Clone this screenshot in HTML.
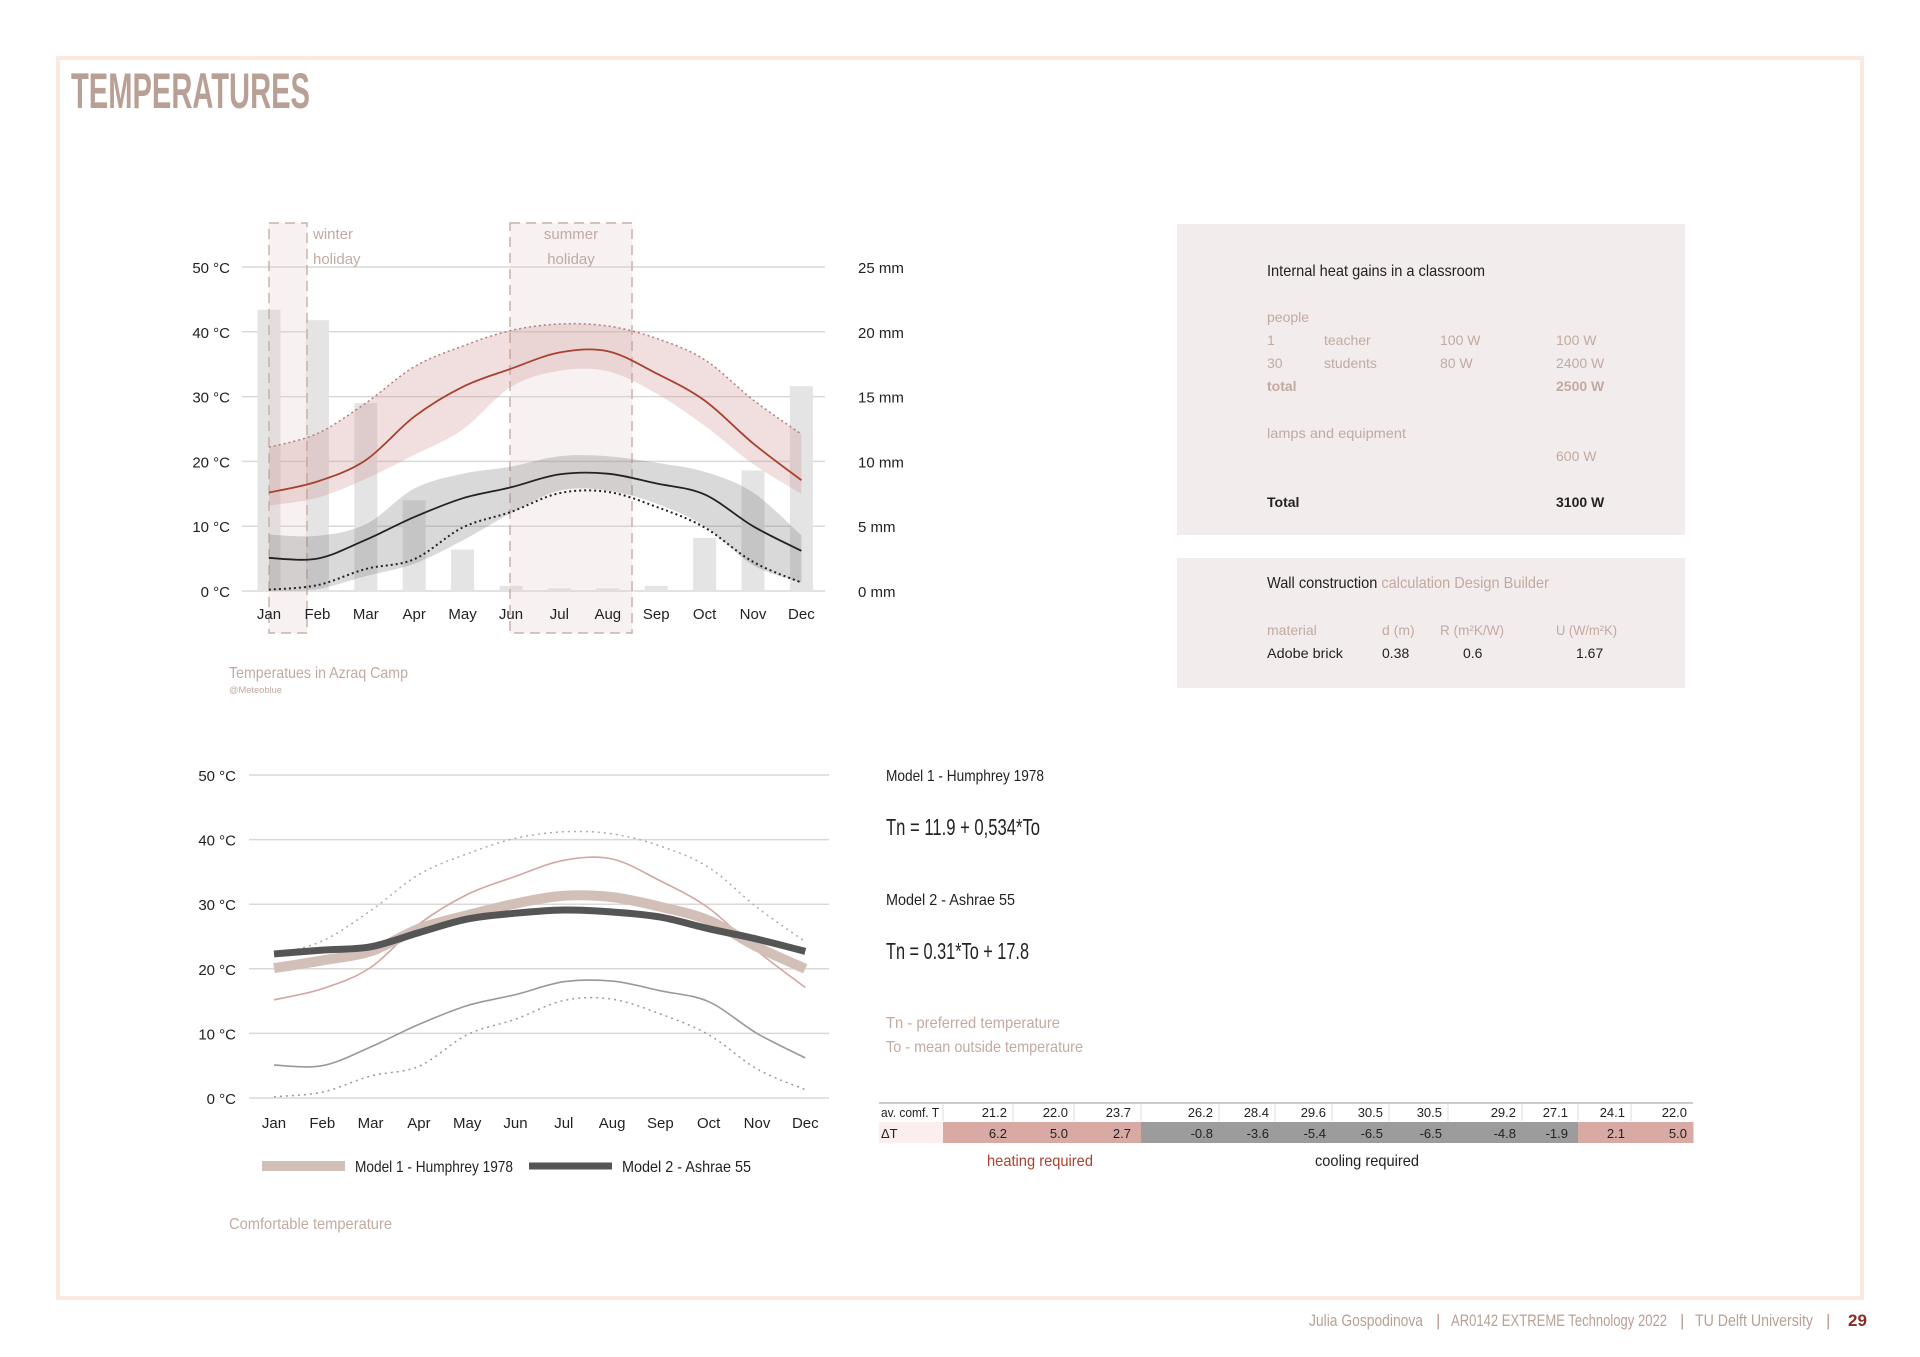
<!DOCTYPE html>
<html><head><meta charset="utf-8"><style>
html,body{margin:0;padding:0;background:#fff;}
svg{display:block;font-family:"Liberation Sans Narrow","Liberation Sans",sans-serif;}
</style></head><body>
<svg id="page" width="1920" height="1357" viewBox="0 0 1920 1357" xmlns="http://www.w3.org/2000/svg">
<rect x="58" y="58" width="1804" height="1240" fill="none" stroke="#fbe9e0" stroke-width="4"/>
<text x="71" y="108" font-size="50" font-weight="bold" fill="#b9a096" textLength="239" lengthAdjust="spacingAndGlyphs">TEMPERATURES</text>

<g id="topchart"></g>
<text x="229" y="678" font-size="16" fill="#c2aaa1" textLength="179" lengthAdjust="spacingAndGlyphs">Temperatues in Azraq Camp</text>
<text x="229" y="693" font-size="9" fill="#c2aaa1" textLength="53" lengthAdjust="spacingAndGlyphs">@Meteoblue</text>

<g id="bottomchart"></g>
<g>
<line x1="262" y1="1166" x2="345" y2="1166" stroke="#d2bfb8" stroke-width="10"/>
<text x="355" y="1172" font-size="16" fill="#222" textLength="158" lengthAdjust="spacingAndGlyphs">Model 1 - Humphrey 1978</text>
<line x1="529" y1="1166" x2="612" y2="1166" stroke="#555" stroke-width="7"/>
<text x="622" y="1172" font-size="16" fill="#222" textLength="129" lengthAdjust="spacingAndGlyphs">Model 2 - Ashrae 55</text>
</g>
<text x="229" y="1229" font-size="16" fill="#c2aaa1" textLength="163" lengthAdjust="spacingAndGlyphs">Comfortable temperature</text>

<g>
<text x="886" y="781" font-size="16" fill="#222" textLength="158" lengthAdjust="spacingAndGlyphs">Model 1 - Humphrey 1978</text>
<text x="886" y="835" font-size="23" fill="#222" textLength="154" lengthAdjust="spacingAndGlyphs">Tn = 11.9 + 0,534*To</text>
<text x="886" y="905" font-size="16" fill="#222" textLength="129" lengthAdjust="spacingAndGlyphs">Model 2 - Ashrae 55</text>
<text x="886" y="959" font-size="23" fill="#222" textLength="143" lengthAdjust="spacingAndGlyphs">Tn = 0.31*To + 17.8</text>
<text x="886" y="1028" font-size="16" fill="#c2aaa1" textLength="174" lengthAdjust="spacingAndGlyphs">Tn - preferred temperature</text>
<text x="886" y="1052" font-size="16" fill="#c2aaa1" textLength="197" lengthAdjust="spacingAndGlyphs">To - mean outside temperature</text>
</g>

<g id="table"></g>

<g>
<rect x="1177" y="224" width="508" height="311" fill="#f3eced"/>
<text x="1267" y="276" font-size="16" fill="#222" textLength="218" lengthAdjust="spacingAndGlyphs">Internal heat gains in a classroom</text>
<g font-size="14" fill="#c2aaa1">
<text x="1267" y="322">people</text>
<text x="1267" y="345">1</text><text x="1324" y="345">teacher</text><text x="1440" y="345">100 W</text><text x="1556" y="345">100 W</text>
<text x="1267" y="368">30</text><text x="1324" y="368">students</text><text x="1440" y="368">80 W</text><text x="1556" y="368">2400 W</text>
<text x="1267" y="391" font-weight="bold">total</text><text x="1556" y="391" font-weight="bold">2500 W</text>
<text x="1267" y="438" textLength="139" lengthAdjust="spacingAndGlyphs">lamps and equipment</text>
<text x="1556" y="461">600 W</text>
</g>
<text x="1267" y="507" font-size="14" font-weight="bold" fill="#222">Total</text>
<text x="1556" y="507" font-size="14" font-weight="bold" fill="#222">3100 W</text>
</g>
<g>
<rect x="1177" y="558" width="508" height="130" fill="#f3eced"/>
<text x="1267" y="588" font-size="16" fill="#222" textLength="282" lengthAdjust="spacingAndGlyphs">Wall construction <tspan fill="#c2aaa1">calculation Design Builder</tspan></text>
<g font-size="14" fill="#c2aaa1">
<text x="1267" y="635">material</text><text x="1382" y="635">d (m)</text><text x="1440" y="635" textLength="64" lengthAdjust="spacingAndGlyphs">R (m²K/W)</text><text x="1556" y="635" textLength="61" lengthAdjust="spacingAndGlyphs">U (W/m²K)</text>
</g>
<g font-size="14" fill="#222">
<text x="1267" y="658" textLength="76" lengthAdjust="spacingAndGlyphs">Adobe brick</text><text x="1382" y="658">0.38</text><text x="1463" y="658">0.6</text><text x="1576" y="658">1.67</text>
</g>
</g>

<g font-size="17" fill="#b9a096">
<text x="1309" y="1326" textLength="114" lengthAdjust="spacingAndGlyphs">Julia Gospodinova</text>
<text x="1436" y="1326">|</text>
<text x="1451" y="1326" textLength="216" lengthAdjust="spacingAndGlyphs">AR0142 EXTREME Technology 2022</text>
<text x="1680" y="1326">|</text>
<text x="1695" y="1326" textLength="118" lengthAdjust="spacingAndGlyphs">TU Delft University</text>
<text x="1826" y="1326">|</text>
</g>
<text x="1848" y="1326" font-size="17" font-weight="bold" fill="#8b2b22">29</text>
</svg>
<script>
const months = ["Jan","Feb","Mar","Apr","May","Jun","Jul","Aug","Sep","Oct","Nov","Dec"];
const precipMm = [21.7,20.9,14.5,7.0,3.2,0.4,0.2,0.2,0.4,4.1,9.3,15.8];
const meanMax = [15.2,16.9,20.2,26.9,31.5,34.3,36.8,37.0,33.6,29.4,22.8,17.1];
const hotDays = [22.2,24.3,29.0,34.6,37.8,40.2,41.2,40.9,39.0,35.7,29.5,24.2];
const maxBandLow = [13.2,14.4,17.3,21.0,24.9,31.5,34.0,33.9,30.5,25.5,19.6,15.0];
const meanMin = [5.1,5.0,7.9,11.4,14.3,16.0,18.0,18.1,16.6,14.9,10.0,6.2];
const minBandHigh = [8.7,8.5,10.3,15.8,18.1,19.2,20.8,20.8,19.8,18.4,15.2,8.6];
const minBandLow = [0.0,0.3,2.3,4.2,7.8,12.0,15.5,15.5,13.5,10.0,4.0,1.3];
const coldNights = [0.2,0.9,3.4,4.9,9.8,12.2,15.1,15.3,13.0,9.8,4.5,1.3];
const model1 = [20.1,21.3,22.7,26.2,28.3,30.1,31.3,31.1,29.6,27.5,23.4,20.0];
const model2 = [22.3,22.9,23.4,25.6,27.7,28.6,29.1,28.8,28.0,26.2,24.6,22.7];
const tempTicks = [0,10,20,30,40,50];
const mmTicks = [0,5,10,15,20,25];
const comfT = ["21.2","22.0","23.7","26.2","28.4","29.6","30.5","30.5","29.2","27.1","24.1","22.0"];
const deltaT = [6.2,5.0,2.7,-0.8,-3.6,-5.4,-6.5,-6.5,-4.8,-1.9,2.1,5.0];

const NS="http://www.w3.org/2000/svg";
function mk(parent,tag,attrs,text){const e=document.createElementNS(NS,tag);for(const k in attrs)e.setAttribute(k,attrs[k]);if(text!==undefined)e.textContent=text;parent.appendChild(e);return e;}
function smooth(pts){let d="M"+pts[0][0]+","+pts[0][1];for(let i=0;i<pts.length-1;i++){const p0=pts[Math.max(0,i-1)],p1=pts[i],p2=pts[i+1],p3=pts[Math.min(pts.length-1,i+2)];const c1=[p1[0]+(p2[0]-p0[0])/6,p1[1]+(p2[1]-p0[1])/6],c2=[p2[0]-(p3[0]-p1[0])/6,p2[1]-(p3[1]-p1[1])/6];d+=" C"+c1[0].toFixed(1)+","+c1[1].toFixed(1)+" "+c2[0].toFixed(1)+","+c2[1].toFixed(1)+" "+p2[0].toFixed(1)+","+p2[1].toFixed(1);}return d;}
function bandPath(xf,yf,hi,lo){const up=hi.map((v,i)=>[xf(i),yf(v)]);const dn=lo.map((v,i)=>[xf(i),yf(v)]).reverse();return smooth(up)+" L"+smooth(dn).slice(1)+" Z";}
function line(parent,xf,yf,arr,attrs,name){const p=mk(parent,'path',Object.assign({d:smooth(arr.map((v,i)=>[xf(i),yf(v)])),fill:'none'},attrs));return p;}

// ---------- top chart ----------
const topG=document.getElementById('topchart');
const xT=i=>269+i*48.4, yT=v=>591-v*6.48, yP=mm=>591-mm*12.96;
tempTicks.forEach((t,i)=>{
  const g=mk(topG,'line',{x1:242,x2:825,y1:yT(t),y2:yT(t),stroke:'#d9d9d9','stroke-width':1.5});
  
  
  const l=mk(topG,'text',{x:230,y:yT(t)+6,'font-size':15,fill:'#222','text-anchor':'end'},t+' °C');
  
  
  const r=mk(topG,'text',{x:858,y:yP(mmTicks[i])+6,'font-size':15,fill:'#222'},mmTicks[i]+' mm');
  
  
});
precipMm.forEach((v,i)=>{
  const b=mk(topG,'rect',{x:xT(i)-11.5,y:yP(v),width:23,height:yP(0)-yP(v),fill:'#e4e4e4'});
  
  
});
[[269,307],[510,632]].forEach((r,k)=>{
  const h=mk(topG,'rect',{x:r[0],y:223,width:r[1]-r[0],height:410,fill:'rgba(225,200,200,0.25)',stroke:'#c8b2aa','stroke-width':1.5,'stroke-dasharray':'10,6'});
  
  
});
mk(topG,'text',{x:313,y:239,'font-size':15,fill:'#c2aaa1'},'winter');
mk(topG,'text',{x:313,y:264,'font-size':15,fill:'#c2aaa1'},'holiday');
mk(topG,'text',{x:571,y:239,'font-size':15,fill:'#c2aaa1','text-anchor':'middle'},'summer');
mk(topG,'text',{x:571,y:264,'font-size':15,fill:'#c2aaa1','text-anchor':'middle'},'holiday');
const rb=mk(topG,'path',{d:bandPath(xT,yT,hotDays,maxBandLow),fill:'rgba(205,150,145,0.3)'});


const gb=mk(topG,'path',{d:bandPath(xT,yT,minBandHigh,minBandLow),fill:'rgba(120,120,120,0.28)'});


line(topG,xT,yT,hotDays,{stroke:'#b07f7a','stroke-width':1.5,'stroke-dasharray':'2,3'},'hot-days-line');
line(topG,xT,yT,coldNights,{stroke:'#222','stroke-width':2,'stroke-dasharray':'2,3'},'cold-nights-line');
line(topG,xT,yT,meanMax,{stroke:'#a8412f','stroke-width':1.8},'mean-max-line');
line(topG,xT,yT,meanMin,{stroke:'#222','stroke-width':1.8},'mean-min-line');
months.forEach((m,i)=>{const t=mk(topG,'text',{x:xT(i),y:619,'font-size':15,fill:'#222','text-anchor':'middle'},m);});

// ---------- bottom chart ----------
const botG=document.getElementById('bottomchart');
const xB=i=>274+i*48.3, yB=v=>1098-v*6.46;
tempTicks.forEach(t=>{
  const g=mk(botG,'line',{x1:249,x2:829,y1:yB(t),y2:yB(t),stroke:'#d9d9d9','stroke-width':1.5});
  
  
  const l=mk(botG,'text',{x:236,y:yB(t)+6,'font-size':15,fill:'#222','text-anchor':'end'},t+' °C');
  
  
});
line(botG,xB,yB,hotDays,{stroke:'#b9a6a6','stroke-width':1.5,'stroke-dasharray':'2,4'},'hot-days-line');
line(botG,xB,yB,coldNights,{stroke:'#a89494','stroke-width':1.5,'stroke-dasharray':'2,4'},'cold-nights-line');
line(botG,xB,yB,meanMax,{stroke:'#d3a5a2','stroke-width':1.6},'mean-max-line');
line(botG,xB,yB,meanMin,{stroke:'#999','stroke-width':1.6},'mean-min-line');
line(botG,xB,yB,model1,{stroke:'#d2bfb8','stroke-width':10},'model1-line');
line(botG,xB,yB,model2,{stroke:'#555','stroke-width':7},'model2-line');
months.forEach((m,i)=>{const t=mk(botG,'text',{x:xB(i),y:1128,'font-size':15,fill:'#222','text-anchor':'middle'},m);});

// ---------- table ----------
const tb=document.getElementById('table');
const colRight=[1007,1068,1131,1213,1269,1326,1383,1442,1516,1568,1625,1687];
const colEdge=[943,1013,1074,1141,1219,1275,1332,1389,1448,1522,1578,1631,1693];
mk(tb,'line',{x1:879,x2:1693,y1:1103,y2:1103,stroke:'#bbb','stroke-width':1.5});
mk(tb,'rect',{x:879,y:1122,width:64,height:21,fill:'#fbeeec'});
deltaT.forEach((d,i)=>{
  const c=mk(tb,'rect',{x:colEdge[i],y:1122,width:colEdge[i+1]-colEdge[i]+0.5,height:21,fill:d>0?'#d9aaa3':'#9c9c9c'});
  
  
  mk(tb,'line',{x1:colEdge[i],x2:colEdge[i],y1:1104,y2:1121,stroke:'#ddd','stroke-width':1});
  const a=mk(tb,'text',{x:colRight[i],y:1117,'font-size':13,fill:'#222','text-anchor':'end'},comfT[i]);
  
  
  const b=mk(tb,'text',{x:colRight[i],y:1138,'font-size':13,fill:'#222','text-anchor':'end'},d.toFixed(1));
  
  
});
mk(tb,'text',{x:881,y:1117,'font-size':13,fill:'#222',textLength:58,lengthAdjust:'spacingAndGlyphs'},'av. comf. T');
mk(tb,'text',{x:881,y:1138,'font-size':13,fill:'#222'},'ΔT');
mk(tb,'text',{x:1040,y:1166,'font-size':16,fill:'#a8412f','text-anchor':'middle',textLength:106,lengthAdjust:'spacingAndGlyphs'},'heating required');
mk(tb,'text',{x:1367,y:1166,'font-size':16,fill:'#222','text-anchor':'middle',textLength:104,lengthAdjust:'spacingAndGlyphs'},'cooling required');
</script>
</body></html>
